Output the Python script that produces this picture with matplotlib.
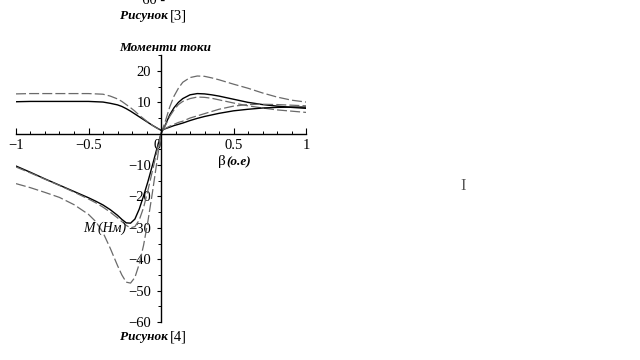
import matplotlib
matplotlib.use("Agg")
import matplotlib.pyplot as plt
from matplotlib.ticker import MultipleLocator, FixedLocator

# ---- data ----
beta_neg = [-1.0, -0.9, -0.8, -0.7, -0.6, -0.5, -0.45, -0.4, -0.35, -0.3, -0.27, -0.24,
            -0.21, -0.18, -0.15, -0.12, -0.09, -0.06, -0.03, 0.0]
beta_pos = [0.0, 0.03, 0.06, 0.09, 0.12, 0.15, 0.2, 0.25, 0.3, 0.35, 0.4, 0.5, 0.6, 0.7, 0.8, 0.9, 1.0]

# torque curves (left branch / right branch)
m1_neg = [-10.3, -12.3, -14.4, -16.4, -18.4, -20.4, -21.5, -22.7, -24.2, -26.0, -27.3, -28.4,
          -28.5, -27.2, -24.0, -19.8, -15.2, -10.2, -5.0, 0.0]
m1_pos = [0.0, 2.8, 6.0, 8.3, 10.0, 11.2, 12.4, 12.8, 12.7, 12.4, 12.0, 11.0, 10.0, 9.3, 8.8, 8.4, 8.1]
m2_neg = [-10.6, -12.5, -14.5, -16.5, -18.6, -20.8, -22.0, -23.4, -25.0, -26.8, -28.0, -29.2,
          -30.0, -29.6, -27.5, -23.5, -18.0, -12.0, -6.0, 0.0]
m2_pos = [0.0, 2.6, 5.5, 7.6, 9.3, 10.3, 11.2, 11.7, 11.6, 11.3, 10.8, 9.8, 8.9, 8.2, 7.6, 7.2, 6.8]
m3_neg = [-15.9, -17.2, -18.7, -20.3, -22.6, -25.7, -28.0, -31.5, -36.5, -42.0, -45.0, -47.3,
          -47.6, -45.8, -41.5, -35.5, -27.8, -19.0, -9.5, 0.0]
m3_pos = [0.0, 4.0, 8.5, 12.0, 14.5, 16.4, 17.9, 18.4, 18.3, 17.8, 17.2, 15.8, 14.5, 13.0, 11.7, 10.7, 10.1]

# current curves
i1_neg = [10.2, 10.3, 10.3, 10.3, 10.3, 10.3, 10.2, 10.1, 9.7, 9.2, 8.7, 8.0,
          7.2, 6.3, 5.4, 4.5, 3.6, 2.7, 1.9, 1.1]
i1_pos = [1.1, 1.6, 2.1, 2.6, 3.0, 3.4, 4.2, 4.9, 5.5, 6.0, 6.5, 7.3, 7.8, 8.2, 8.4, 8.5, 8.5]
i2_neg = [12.7, 12.8, 12.8, 12.8, 12.8, 12.8, 12.7, 12.6, 12.0, 11.1, 10.3, 9.3,
          8.3, 7.2, 5.9, 4.8, 3.7, 2.7, 1.8, 1.1]
i2_pos = [1.1, 1.7, 2.4, 3.0, 3.6, 4.0, 5.0, 5.7, 6.4, 7.1, 7.8, 8.8, 9.3, 9.4, 9.3, 9.1, 8.9]

x_ticks = [-1, -0.5, 0, 0.5, 1]
x_tick_labels = ["\u22121", "\u22120.5", "0", "0.5", "1"]
y_ticks = [-60, -50, -40, -30, -20, -10, 10, 20]
y_tick_labels = ["\u221260", "\u221250", "\u221240", "\u221230", "\u221220", "\u221210", "10", "20"]

# ---- figure ----
W, H = 640, 360
fig = plt.figure(figsize=(6.4, 3.6), dpi=100)
fig.patch.set_facecolor("white")
ax = fig.add_axes([16 / W, 38 / H, 290 / W, 266.7 / H])
ax.set_facecolor("none")

serif = ["Liberation Serif", "DejaVu Serif"]
solid_kw = dict(color="black", lw=1.0, solid_joinstyle="round")
dash_kw = dict(color="#6a6a6a", lw=0.9, dashes=(8, 2.5))

for yn, yp, kw in [
    (m1_neg, m1_pos, solid_kw),
    (m2_neg, m2_pos, dash_kw),
    (m3_neg, m3_pos, dash_kw),
    (i1_neg, i1_pos, solid_kw),
    (i2_neg, i2_pos, dash_kw),
]:
    ax.plot(beta_neg + beta_pos[1:], yn + yp[1:], **kw)

ax.set_xlim(-1, 1)
ax.set_ylim(-60, 25)
for s in ["top", "right"]:
    ax.spines[s].set_visible(False)
ax.spines["left"].set_position(("data", 0))
ax.spines["bottom"].set_position(("data", 0))
ax.spines["left"].set_linewidth(1.0)
ax.spines["bottom"].set_linewidth(1.0)

ax.xaxis.set_major_locator(FixedLocator(x_ticks))
ax.set_xticklabels(x_tick_labels)
ax.xaxis.set_minor_locator(MultipleLocator(0.1))
ax.yaxis.set_major_locator(FixedLocator(y_ticks))
ax.set_yticklabels(y_tick_labels)
ax.yaxis.set_minor_locator(MultipleLocator(5))

ax.tick_params(axis="x", which="major", direction="in", length=4, width=0.8, pad=4)
ax.tick_params(axis="x", which="minor", direction="in", length=2.5, width=0.7)
ax.tick_params(axis="y", which="major", direction="out", length=3, width=0.8, pad=4)
ax.tick_params(axis="y", which="minor", direction="out", length=2, width=0.7)
for lab in ax.get_xticklabels() + ax.get_yticklabels():
    lab.set_fontfamily(serif)
    lab.set_fontsize(10.5)
ax.get_xticklabels()[2].set_horizontalalignment("right")

def ftext(px, py, s, **kw):
    fig.text(px / W, 1 - py / H, s, family=serif, **kw)

ftext(165, 48, "Моменти токи", fontsize=9.5, style="italic", weight="bold", ha="center", va="center")
ftext(218, 162, "\u03b2", fontsize=11, ha="left", va="center")
ftext(226, 162, "(о.е)", fontsize=9.5, style="italic", weight="bold", ha="left", va="center")
ftext(105, 228, "М (Нм)", fontsize=10, style="italic", ha="center", va="center")

ftext(168, 16, "Рисунок", fontsize=9.5, style="italic", weight="bold", ha="right", va="center")
ftext(170, 16, "[3]", fontsize=10.5, ha="left", va="center")
ftext(168, 337, "Рисунок", fontsize=9.5, style="italic", weight="bold", ha="right", va="center")
ftext(170, 337, "[4]", fontsize=10.5, ha="left", va="center")
ftext(150, 3.5, "\u221260 -", fontsize=10.5, ha="center", va="baseline")
ftext(463, 186, "I", fontsize=12, color="#555555", ha="center", va="center")

fig.savefig("out.png", dpi=100, facecolor="white")
